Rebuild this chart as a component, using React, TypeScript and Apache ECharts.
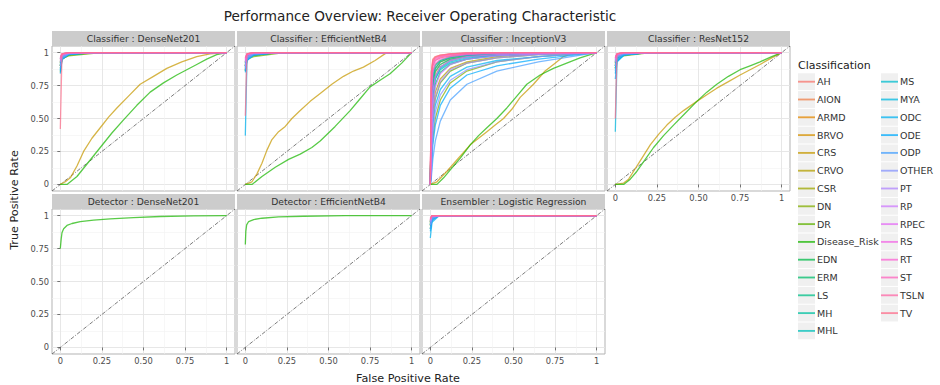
import React, { useEffect, useRef } from 'react';
import * as echarts from 'echarts';

const CLASSES = ['AH', 'AION', 'ARMD', 'BRVO', 'CRS', 'CRVO', 'CSR', 'DN', 'DR', 'Disease_Risk', 'EDN', 'ERM', 'LS', 'MH', 'MHL', 'MS', 'MYA', 'ODC', 'ODE', 'ODP', 'OTHER', 'PT', 'RP', 'RPEC', 'RS', 'RT', 'ST', 'TSLN', 'TV'];
const PANEL_TITLES = ['Classifier : DenseNet201', 'Classifier : EfficientNetB4', 'Classifier : InceptionV3', 'Classifier : ResNet152', 'Detector : DenseNet201', 'Detector : EfficientNetB4', 'Ensembler : Logistic Regression'];
const TITLE = 'Performance Overview: Receiver Operating Characteristic';
const X_TITLE = 'False Positive Rate';
const Y_TITLE = 'True Positive Rate';
const LEGEND_TITLE = 'Classification';
const TICKS = [0, 0.25, 0.5, 0.75, 1];
const TICK_LABELS = ['0', '0.25', '0.50', '0.75', '1'];
const MINOR_TICKS = [0.125, 0.375, 0.625, 0.875];
const DIAG = [[-0.05, -0.05], [1.05, 1.05]];

// near-perfect curves: TPR at FPR = 0, 0.01, 0.05, 0.2, then (1,1)
const NEAR_FPR = [0, 0.01, 0.05, 0.2, 1];
const D201_START = [0.95, 0.93, 0.9, 0.92, null, 0.9, 0.94, 0.85, 0.88, null, 0.9, 0.92, 0.93, 0.95, 0.91, 0.9, 0.87, 0.86, 0.84, 0.88, 0.9, 0.93, 0.94, 0.95, 0.96, 0.95, 0.97, 0.96, 0.42];
const D201_AT01 = [0.99, 0.98, 0.97, 0.975, null, 0.965, 0.98, 0.95, 0.955, null, 0.96, 0.97, 0.975, 0.98, 0.97, 0.97, 0.955, 0.95, 0.945, 0.955, 0.965, 0.975, 0.98, 0.985, 0.99, 0.985, 0.99, 0.99, 0.99];
const D201_AT05 = [1, 1, 0.995, 0.995, null, 0.985, 0.995, 0.98, 0.975, null, 0.985, 0.99, 0.995, 1, 0.99, 0.99, 0.985, 0.99, 0.985, 0.99, 0.99, 0.995, 1, 1, 1, 1, 1, 1, 1];
const D201_AT20 = [1, 1, 1, 1, null, 1, 1, 0.998, 0.995, null, 1, 1, 1, 1, 1, 1, 1, 1, 1, 1, 1, 1, 1, 1, 1, 1, 1, 1, 1];

const B4_START = [0.94, 0.92, 0.9, 0.9, null, 0.88, 0.93, 0.86, 0.87, null, 0.9, 0.91, 0.92, 0.93, 0.9, 0.89, 0.86, 0.37, 0.85, 0.87, 0.88, 0.9, 0.93, 0.94, 0.95, 0.95, 0.96, 0.96, 0.52];
const B4_AT01 = [0.99, 0.98, 0.97, 0.97, null, 0.96, 0.98, 0.95, 0.95, null, 0.96, 0.97, 0.975, 0.98, 0.965, 0.97, 0.95, 0.94, 0.94, 0.95, 0.96, 0.97, 0.98, 0.985, 0.99, 0.985, 0.99, 0.99, 0.99];
const B4_AT05 = [1, 1, 0.995, 0.99, null, 0.98, 0.995, 0.98, 0.97, null, 0.98, 0.99, 0.995, 1, 0.99, 0.99, 0.985, 0.985, 0.98, 0.985, 0.99, 0.995, 1, 1, 1, 1, 1, 1, 1];
const B4_AT20 = [1, 1, 1, 1, null, 1, 1, 1, 0.995, null, 1, 1, 1, 1, 1, 1, 1, 1, 1, 1, 1, 1, 1, 1, 1, 1, 1, 1, 1];

const R152_START = [0.95, 0.93, 0.91, 0.92, null, 0.9, 0.94, 0.88, 0.88, null, 0.9, 0.92, 0.93, 0.94, 0.9, 0.88, 0.4, 0.84, 0.8, 0.86, 0.9, 0.93, 0.94, 0.95, 0.96, 0.96, 0.97, 0.96, 0.5];
const R152_AT01 = [0.99, 0.985, 0.975, 0.975, null, 0.965, 0.98, 0.955, 0.95, null, 0.96, 0.97, 0.975, 0.98, 0.965, 0.96, 0.93, 0.94, 0.93, 0.95, 0.965, 0.975, 0.98, 0.985, 0.99, 0.99, 0.99, 0.99, 0.99];
const R152_AT05 = [1, 1, 0.995, 0.995, null, 0.985, 0.995, 0.98, 0.975, null, 0.985, 0.99, 0.995, 1, 0.99, 0.985, 0.98, 0.985, 0.98, 0.985, 0.99, 0.995, 1, 1, 1, 1, 1, 1, 1];
const R152_AT20 = [1, 1, 1, 1, null, 1, 1, 1, 0.998, null, 1, 1, 1, 1, 1, 1, 1, 1, 1, 1, 1, 1, 1, 1, 1, 1, 1, 1, 1];

const ENS_START = [0.97, 0.96, 0.95, 0.95, 0.94, 0.94, 0.96, 0.92, 0.9, 0.93, 0.93, 0.95, 0.95, 0.96, 0.94, 0.93, 0.9, 0.83, 0.88, 0.9, 0.93, 0.95, 0.96, 0.97, 0.97, 0.97, 0.98, 0.98, 0.97];
const ENS_AT01 = [1, 0.995, 0.99, 0.99, 0.99, 0.985, 0.995, 0.975, 0.97, 0.98, 0.98, 0.99, 0.99, 0.995, 0.985, 0.98, 0.97, 0.95, 0.96, 0.97, 0.98, 0.99, 0.995, 1, 1, 1, 1, 1, 1];
const ENS_AT05 = [1, 1, 1, 1, 1, 1, 1, 1, 1, 1, 1, 1, 1, 1, 1, 1, 1, 0.995, 1, 1, 1, 1, 1, 1, 1, 1, 1, 1, 1];
const ENS_AT20 = [1, 1, 1, 1, 1, 1, 1, 1, 1, 1, 1, 1, 1, 1, 1, 1, 1, 1, 1, 1, 1, 1, 1, 1, 1, 1, 1, 1, 1];

// InceptionV3 curves: TPR at INC_FPR
const INC_FPR = [0, 0.006, 0.015, 0.03, 0.06, 0.12, 0.22, 0.4, 0.65, 1];
const INC_TPR = [
  [0, 0.85, 0.95, 0.97, 0.98, 0.99, 0.995, 1, 1, 1],
  [0, 0.7, 0.9, 0.94, 0.96, 0.975, 0.99, 0.995, 1, 1],
  [0, 0.55, 0.8, 0.88, 0.93, 0.96, 0.98, 0.99, 1, 1],
  [0, 0.5, 0.75, 0.85, 0.91, 0.95, 0.975, 0.99, 1, 1],
  null,
  [0, 0.3, 0.55, 0.7, 0.8, 0.88, 0.93, 0.97, 0.99, 1],
  [0, 0.6, 0.85, 0.91, 0.94, 0.97, 0.985, 0.995, 1, 1],
  [0, 0.15, 0.35, 0.5, 0.64, 0.77, 0.86, 0.93, 0.97, 1],
  [0, 0.25, 0.5, 0.65, 0.77, 0.86, 0.92, 0.96, 0.985, 1],
  null,
  [0, 0.45, 0.72, 0.82, 0.89, 0.94, 0.97, 0.985, 0.995, 1],
  [0, 0.35, 0.62, 0.76, 0.85, 0.91, 0.95, 0.98, 0.99, 1],
  [0, 0.55, 0.8, 0.88, 0.93, 0.96, 0.98, 0.99, 1, 1],
  [0, 0.5, 0.76, 0.86, 0.91, 0.95, 0.97, 0.985, 0.995, 1],
  [0, 0.45, 0.7, 0.8, 0.87, 0.92, 0.95, 0.975, 0.99, 1],
  [0, 0.6, 0.82, 0.9, 0.94, 0.965, 0.98, 0.99, 1, 1],
  [0, 0.4, 0.68, 0.8, 0.88, 0.93, 0.96, 0.98, 0.99, 1],
  [0, 0.15, 0.45, 0.6, 0.72, 0.82, 0.89, 0.94, 0.97, 1],
  [0, 0.08, 0.3, 0.45, 0.6, 0.73, 0.83, 0.9, 0.95, 1],
  [0, 0.05, 0.19, 0.33, 0.48, 0.64, 0.76, 0.86, 0.93, 1],
  [0, 0.12, 0.38, 0.55, 0.68, 0.79, 0.87, 0.93, 0.97, 1],
  [0, 0.2, 0.5, 0.66, 0.78, 0.87, 0.92, 0.96, 0.985, 1],
  [0, 0.3, 0.6, 0.74, 0.84, 0.91, 0.95, 0.975, 0.99, 1],
  [0, 0.4, 0.7, 0.82, 0.89, 0.94, 0.97, 0.985, 0.995, 1],
  [0, 0.6, 0.85, 0.92, 0.95, 0.97, 0.985, 0.995, 1, 1],
  [0, 0.7, 0.9, 0.94, 0.965, 0.98, 0.99, 1, 1, 1],
  [0, 0.75, 0.92, 0.95, 0.97, 0.985, 0.995, 1, 1, 1],
  [0, 0.8, 0.93, 0.96, 0.975, 0.99, 0.995, 1, 1, 1],
  [0, 0.85, 0.94, 0.965, 0.98, 0.99, 1, 1, 1, 1],
];

// weak classifier curves (CRS, Disease_Risk)
const CRS_D201_FPR = [0, 0.03, 0.06, 0.1, 0.14, 0.19, 0.24, 0.29, 0.34, 0.41, 0.48, 0.56, 0.64, 0.73, 0.82, 0.9, 1];
const CRS_D201_TPR = [0, 0.02, 0.05, 0.14, 0.25, 0.35, 0.43, 0.51, 0.58, 0.67, 0.76, 0.82, 0.88, 0.93, 0.97, 0.99, 1];
const DRISK_D201_FPR = [0, 0.04, 0.1, 0.17, 0.24, 0.31, 0.38, 0.46, 0.54, 0.62, 0.7, 0.76, 0.82, 0.88, 0.94, 1];
const DRISK_D201_TPR = [0, 0, 0.06, 0.17, 0.28, 0.39, 0.49, 0.6, 0.7, 0.77, 0.83, 0.87, 0.91, 0.95, 0.985, 1];

const CRS_B4_FPR = [0, 0.04, 0.07, 0.1, 0.13, 0.16, 0.2, 0.24, 0.28, 0.33, 0.39, 0.45, 0.52, 0.59, 0.65, 0.71, 0.78, 0.85, 1];
const CRS_B4_TPR = [0, 0.02, 0.08, 0.16, 0.26, 0.34, 0.4, 0.44, 0.5, 0.56, 0.63, 0.69, 0.76, 0.82, 0.86, 0.89, 0.94, 1, 1];
const DRISK_B4_FPR = [0, 0.04, 0.1, 0.18, 0.26, 0.33, 0.4, 0.45, 0.54, 0.63, 0.69, 0.75, 0.81, 0.87, 0.94, 1];
const DRISK_B4_TPR = [0, 0, 0.06, 0.13, 0.19, 0.23, 0.28, 0.33, 0.44, 0.56, 0.65, 0.74, 0.79, 0.84, 0.92, 1];

const CRS_INC_FPR = [0, 0.04, 0.1, 0.17, 0.24, 0.29, 0.34, 0.39, 0.44, 0.49, 0.54, 0.62, 0.69, 0.75, 0.8, 0.87, 1];
const CRS_INC_TPR = [0, 0.02, 0.1, 0.2, 0.3, 0.35, 0.4, 0.45, 0.5, 0.57, 0.66, 0.76, 0.86, 0.92, 0.97, 1, 1];
const DRISK_INC_FPR = [0, 0.04, 0.08, 0.12, 0.18, 0.24, 0.29, 0.34, 0.4, 0.46, 0.52, 0.58, 0.66, 0.74, 0.82, 0.9, 1];
const DRISK_INC_TPR = [0, 0, 0.05, 0.11, 0.2, 0.3, 0.37, 0.43, 0.5, 0.58, 0.67, 0.76, 0.83, 0.88, 0.92, 0.96, 1];

const CRS_R152_FPR = [0, 0.05, 0.08, 0.11, 0.16, 0.21, 0.26, 0.31, 0.36, 0.41, 0.49, 0.55, 0.61, 0.68, 0.75, 0.81, 0.87, 0.94, 1];
const CRS_R152_TPR = [0, 0.01, 0.04, 0.1, 0.2, 0.3, 0.38, 0.45, 0.51, 0.56, 0.63, 0.68, 0.73, 0.78, 0.83, 0.87, 0.91, 0.96, 1];
const DRISK_R152_FPR = [0, 0.05, 0.09, 0.13, 0.18, 0.23, 0.29, 0.35, 0.42, 0.49, 0.55, 0.61, 0.68, 0.75, 0.81, 0.87, 0.94, 1];
const DRISK_R152_TPR = [0, 0, 0.04, 0.1, 0.19, 0.28, 0.37, 0.45, 0.54, 0.63, 0.7, 0.76, 0.82, 0.87, 0.9, 0.93, 0.97, 1];

// detectors (Disease_Risk only)
const DET_D201_FPR = [0, 0.005, 0.01, 0.02, 0.04, 0.07, 0.12, 0.2, 0.3, 0.44, 0.6, 0.8, 1];
const DET_D201_TPR = [0.75, 0.82, 0.87, 0.9, 0.925, 0.94, 0.955, 0.965, 0.975, 0.985, 0.993, 0.998, 1];
const DET_B4_FPR = [0, 0.003, 0.008, 0.02, 0.05, 0.1, 0.2, 0.35, 0.6, 1];
const DET_B4_TPR = [0.78, 0.88, 0.93, 0.955, 0.97, 0.98, 0.99, 0.995, 0.999, 1];

const FONT = 'DejaVu Sans';
const COL_LEFT = [52, 237, 422, 607];
const ROW_TOP = [46, 209];
const PANEL_W = 183;
const PANEL_H = 145;
const STRIP_H = 15;

function hclHex(h: number, c: number, l: number) {
  const hr = (h * Math.PI) / 180;
  const U = c * Math.cos(hr), V = c * Math.sin(hr);
  const Xn = 95.047, Yn = 100, Zn = 108.883;
  const den = Xn + 15 * Yn + 3 * Zn;
  const un = (4 * Xn) / den, vn = (9 * Yn) / den;
  const Y = l > 8 ? Yn * Math.pow((l + 16) / 116, 3) : (Yn * l) / 903.3;
  const u = U / (13 * l) + un, v = V / (13 * l) + vn;
  const X = (9 * Y * u) / (4 * v);
  const Z = -X / 3 - 5 * Y + (3 * Y) / v;
  const x = X / 100, y = Y / 100, z = Z / 100;
  const lin = [
    3.240479 * x - 1.53715 * y - 0.498535 * z,
    -0.969256 * x + 1.875992 * y + 0.041556 * z,
    0.055648 * x - 0.204043 * y + 1.057311 * z,
  ];
  return '#' + lin.map((t) => {
    let s = t <= 0.0031308 ? 12.92 * t : 1.055 * Math.pow(t, 1 / 2.4) - 0.055;
    s = Math.max(0, Math.min(1, s));
    return Math.round(s * 255).toString(16).padStart(2, '0');
  }).join('');
}

const COLORS = CLASSES.map((_, i) => hclHex(15 + (360 / CLASSES.length) * i, 100, 65));

type Curve = { cls: number; pts: number[][] };
const zip = (a: number[], b: number[]) => a.map((v, i) => [v, b[i]]);

function nearCurves(s: (number | null)[], a01: (number | null)[], a05: (number | null)[], a20: (number | null)[]): (Curve | null)[] {
  return s.map((v, i) => (v == null ? null : { cls: i, pts: zip(NEAR_FPR, [v, a01[i] as number, a05[i] as number, a20[i] as number, 1]) }));
}

function withWeak(list: (Curve | null)[], crs: number[][], drisk: number[][]): Curve[] {
  const out = list.slice();
  out[4] = { cls: 4, pts: crs };
  out[9] = { cls: 9, pts: drisk };
  return out.filter((c) => c) as Curve[];
}

function buildPanels(): Curve[][] {
  const p0 = withWeak(nearCurves(D201_START, D201_AT01, D201_AT05, D201_AT20), zip(CRS_D201_FPR, CRS_D201_TPR), zip(DRISK_D201_FPR, DRISK_D201_TPR));
  const p1 = withWeak(nearCurves(B4_START, B4_AT01, B4_AT05, B4_AT20), zip(CRS_B4_FPR, CRS_B4_TPR), zip(DRISK_B4_FPR, DRISK_B4_TPR));
  const incList = INC_TPR.map((row, i) => (row ? { cls: i, pts: zip(INC_FPR, row) } : null));
  const p2 = withWeak(incList, zip(CRS_INC_FPR, CRS_INC_TPR), zip(DRISK_INC_FPR, DRISK_INC_TPR));
  const p3 = withWeak(nearCurves(R152_START, R152_AT01, R152_AT05, R152_AT20), zip(CRS_R152_FPR, CRS_R152_TPR), zip(DRISK_R152_FPR, DRISK_R152_TPR));
  const p4 = [{ cls: 9, pts: zip(DET_D201_FPR, DET_D201_TPR) }];
  const p5 = [{ cls: 9, pts: zip(DET_B4_FPR, DET_B4_TPR) }];
  const p6 = nearCurves(ENS_START, ENS_AT01, ENS_AT05, ENS_AT20).filter((c) => c) as Curve[];
  return [p0, p1, p2, p3, p4, p5, p6];
}

const tickFmt = (v: number) => {
  const i = TICKS.findIndex((t) => Math.abs(t - v) < 1e-9);
  return i >= 0 ? TICK_LABELS[i] : '';
};

function buildOption() {
  const panels = buildPanels();
  const grid: any[] = [];
  const xAxis: any[] = [];
  const yAxis: any[] = [];
  const series: any[] = [];
  const graphic: any[] = [];

  panels.forEach((curves, p) => {
    const row = p < 4 ? 0 : 1;
    const col = p % 4;
    const left = COL_LEFT[col];
    const top = ROW_TOP[row];
    const showX = row === 1 || col === 3;
    const showY = col === 0;
    grid.push({ left, top, width: PANEL_W, height: PANEL_H, show: true, borderColor: '#b3b3b3', borderWidth: 1, backgroundColor: '#ffffff', containLabel: false });
    const axisBase = (show: boolean) => ({
      type: 'value', gridIndex: p, min: -0.05, max: 1.05,
      axisLine: { show: false },
      axisTick: { show, length: 3, lineStyle: { color: '#555555', width: 0.8 }, customValues: TICKS },
      axisLabel: { show, customValues: TICKS, formatter: tickFmt, fontSize: 8.3, color: '#4d4d4d', fontFamily: FONT, margin: 3 },
      splitLine: { show: true, lineStyle: { color: '#e4e4e4', width: 0.9 } },
    });
    const minorBase = () => ({
      type: 'value', gridIndex: p, min: -0.05, max: 1.05,
      axisLine: { show: false },
      axisTick: { show: false, customValues: MINOR_TICKS },
      axisLabel: { show: false, customValues: MINOR_TICKS },
      splitLine: { show: true, lineStyle: { color: '#f2f2f2', width: 0.6 } },
    });
    xAxis.push({ ...axisBase(showX), position: 'bottom' });
    xAxis.push({ ...minorBase(), position: 'top' });
    yAxis.push({ ...axisBase(showY), position: 'left' });
    yAxis.push({ ...minorBase(), position: 'right' });

    series.push({
      type: 'line', name: 'diagonal', xAxisIndex: 2 * p, yAxisIndex: 2 * p, data: DIAG,
      showSymbol: false, symbol: 'none', silent: true,
      lineStyle: { color: '#444444', width: 0.7, type: [4, 1.5, 1, 1.5] },
    });
    curves.forEach((c) => {
      series.push({
        type: 'line', name: CLASSES[c.cls], xAxisIndex: 2 * p, yAxisIndex: 2 * p, data: c.pts,
        showSymbol: false, symbol: 'none', silent: true,
        itemStyle: { color: COLORS[c.cls] },
        lineStyle: { color: COLORS[c.cls], width: 1.3, opacity: 0.72 },
      });
    });

    graphic.push({ type: 'rect', shape: { x: left, y: top - STRIP_H, width: PANEL_W, height: STRIP_H }, style: { fill: '#cccccc' } });
    graphic.push({
      type: 'text', x: left + PANEL_W / 2, y: top - STRIP_H / 2,
      style: { text: PANEL_TITLES[p], fill: '#333333', fontSize: 9.2, fontFamily: FONT, align: 'center', verticalAlign: 'middle', textAlign: 'center', textVerticalAlign: 'middle' },
    });
  });

  graphic.push({ type: 'text', x: 420, y: 16, style: { text: TITLE, fill: '#222222', fontSize: 13.6, fontFamily: FONT, align: 'center', verticalAlign: 'middle', textAlign: 'center', textVerticalAlign: 'middle' } });
  graphic.push({ type: 'text', x: 408, y: 378, style: { text: X_TITLE, fill: '#222222', fontSize: 11.2, fontFamily: FONT, align: 'center', verticalAlign: 'middle', textAlign: 'center', textVerticalAlign: 'middle' } });
  graphic.push({ type: 'text', x: 14, y: 200, rotation: Math.PI / 2, style: { text: Y_TITLE, fill: '#222222', fontSize: 11.2, fontFamily: FONT, align: 'center', verticalAlign: 'middle', textAlign: 'center', textVerticalAlign: 'middle' } });
  graphic.push({ type: 'text', x: 798, y: 65, style: { text: LEGEND_TITLE, fill: '#222222', fontSize: 11, fontFamily: FONT, align: 'left', verticalAlign: 'middle', textAlign: 'left', textVerticalAlign: 'middle' } });

  const ROW_STEP = 17.8;
  const LEG_TOP = 72.8;
  CLASSES.forEach((_, i) => {
    const colIdx = i < 15 ? 0 : 1;
    const r = i < 15 ? i : i - 15;
    graphic.push({ type: 'rect', shape: { x: colIdx === 0 ? 798 : 881, y: LEG_TOP + r * ROW_STEP + 0.5, width: 17, height: ROW_STEP - 1 }, style: { fill: '#f0f0f0' } });
  });

  const legendBase = {
    orient: 'vertical', itemWidth: 17, itemHeight: ROW_STEP, itemGap: 0, padding: 0,
    icon: 'path://M0,0H20V2.2H0Z', selectedMode: false,
    itemStyle: { opacity: 0.75 },
    textStyle: { fontSize: 9.5, color: '#333333', fontFamily: FONT, lineHeight: ROW_STEP, padding: [0, 0, 0, -3] },
  };
  const legend = [
    { ...legendBase, data: CLASSES.slice(0, 15), left: 798, top: LEG_TOP },
    { ...legendBase, data: CLASSES.slice(15), left: 881, top: LEG_TOP },
  ];

  return { animation: false, backgroundColor: '#ffffff', grid, xAxis, yAxis, series, graphic, legend };
}

export default function App() {
  const ref = useRef<HTMLDivElement>(null);
  useEffect(() => {
    document.body.style.margin = '0';
    if (!ref.current) return;
    const chart = echarts.init(ref.current, null, { renderer: 'svg' });
    chart.setOption(buildOption() as any);
    return () => chart.dispose();
  }, []);
  return <div ref={ref} style={{ position: 'absolute', left: 0, top: 0, width: 940, height: 385 }} />;
}
